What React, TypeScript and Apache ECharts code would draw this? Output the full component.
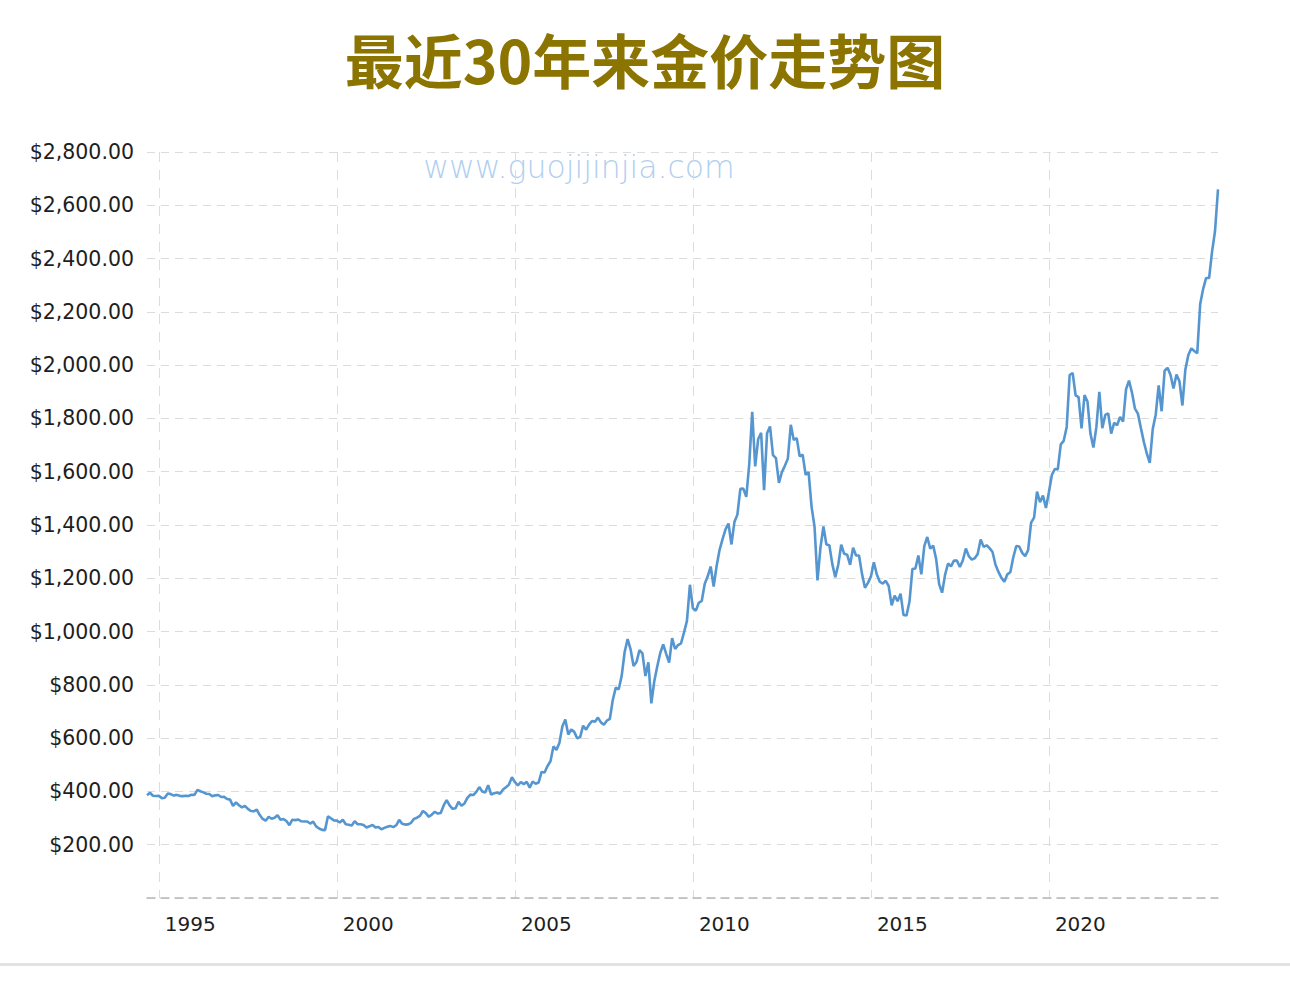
import React, { useEffect, useRef } from "react";
import * as echarts from "echarts";

// Gold price (USD/oz) on the first day of each month, Sep 1994 – Oct 2024
const prices1994 = [386.0, 394.9, 383.9, 383.1];
const prices1995 = [383.3, 374.9, 376.4, 392.0, 389.8, 384.3, 387.1, 383.4, 382.4, 384.0, 382.7, 387.8];
const prices1996 = [387.0, 405.6, 400.7, 396.4, 391.3, 390.6, 382.0, 385.3, 386.5, 379.0, 379.5, 371.3];
const prices1997 = [369.3, 345.5, 358.6, 348.2, 340.2, 345.6, 334.6, 326.4, 325.4, 332.1, 311.4, 296.8];
const prices1998 = [290.2, 304.9, 297.4, 301.0, 310.7, 293.6, 296.3, 288.9, 273.4, 293.9, 292.3, 294.7];
const prices1999 = [287.8, 287.1, 287.3, 279.5, 286.6, 268.6, 261.0, 255.6, 254.8, 307.0, 299.1, 291.4];
const prices2000 = [290.3, 283.3, 293.7, 276.8, 275.1, 272.3, 288.2, 276.8, 277.0, 273.7, 264.5, 269.1];
const prices2001 = [274.5, 264.5, 266.7, 257.7, 263.2, 267.5, 270.6, 265.9, 273.0, 293.1, 278.8, 275.5];
const prices2002 = [276.5, 282.3, 296.9, 301.4, 308.2, 326.6, 318.5, 304.7, 312.8, 323.7, 316.9, 319.1];
const prices2003 = [347.2, 367.5, 347.5, 334.9, 336.8, 361.4, 346.0, 354.8, 375.6, 388.0, 386.3, 398.4];
const prices2004 = [416.3, 399.8, 395.9, 423.7, 388.5, 393.3, 395.8, 391.4, 407.3, 415.7, 425.6, 453.4];
const prices2005 = [435.6, 422.2, 435.5, 427.5, 435.7, 414.5, 437.1, 429.0, 433.3, 473.3, 470.8, 495.7];
const prices2006 = [513.0, 568.8, 556.0, 582.0, 644.0, 670.0, 613.5, 632.5, 623.5, 599.3, 603.8, 646.7];
const prices2007 = [632.0, 650.5, 664.2, 661.8, 677.0, 659.1, 650.5, 665.5, 672.0, 743.0, 789.5, 783.5];
const prices2008 = [833.8, 923.3, 971.5, 933.5, 871.0, 885.8, 930.3, 918.0, 833.0, 884.5, 730.8, 814.5];
const prices2009 = [869.8, 919.5, 952.0, 916.5, 883.3, 975.5, 934.5, 949.5, 955.5, 995.8, 1040.0, 1175.8];
const prices2010 = [1087.5, 1078.5, 1108.3, 1115.5, 1179.3, 1207.5, 1244.0, 1169.0, 1246.0, 1307.0, 1346.8, 1383.5];
const prices2011 = [1405.5, 1327.0, 1411.0, 1439.0, 1535.5, 1536.5, 1505.5, 1628.5, 1825.0, 1620.0, 1722.0, 1746.0];
const prices2012 = [1531.0, 1744.0, 1770.0, 1662.5, 1651.3, 1558.0, 1598.5, 1622.0, 1648.5, 1776.0, 1719.0, 1726.0];
const prices2013 = [1657.5, 1664.0, 1588.5, 1598.3, 1469.0, 1394.5, 1192.0, 1314.5, 1394.8, 1326.5, 1324.0, 1253.0];
const prices2014 = [1204.5, 1251.0, 1326.5, 1291.8, 1288.5, 1250.5, 1315.0, 1285.3, 1285.8, 1216.5, 1164.3, 1182.8];
const prices2015 = [1206.0, 1260.3, 1214.0, 1187.0, 1180.3, 1190.6, 1171.0, 1098.4, 1135.0, 1114.0, 1142.4, 1061.9];
const prices2016 = [1060.0, 1111.8, 1234.9, 1237.0, 1285.7, 1214.7, 1320.8, 1355.0, 1311.4, 1322.5, 1272.0, 1178.1];
const prices2017 = [1145.9, 1212.8, 1255.6, 1244.9, 1266.5, 1266.2, 1242.3, 1267.6, 1311.8, 1283.1, 1270.2, 1275.0];
const prices2018 = [1291.0, 1345.2, 1317.9, 1323.9, 1313.2, 1298.5, 1250.5, 1224.0, 1201.5, 1187.3, 1214.9, 1222.5];
const prices2019 = [1279.0, 1321.0, 1319.2, 1295.4, 1283.0, 1305.6, 1409.0, 1427.6, 1525.0, 1485.3, 1510.9, 1463.9];
const prices2020 = [1523.0, 1587.9, 1609.9, 1608.9, 1702.8, 1715.9, 1768.1, 1962.8, 1970.7, 1886.9, 1879.9, 1762.2];
const prices2021 = [1887.6, 1863.6, 1743.3, 1691.1, 1767.3, 1899.7, 1763.2, 1813.2, 1818.9, 1742.8, 1783.4, 1774.5];
const prices2022 = [1805.9, 1788.2, 1909.1, 1942.2, 1896.9, 1836.9, 1818.0, 1764.6, 1712.0, 1668.3, 1633.6, 1759.9];
const prices2023 = [1813.8, 1923.9, 1826.9, 1978.9, 1990.0, 1962.7, 1912.3, 1965.1, 1939.7, 1848.6, 1983.9, 2038.1];
const prices2024 = [2062.9, 2053.1, 2044.3, 2229.9, 2286.3, 2327.3, 2326.8, 2426.2, 2503.4, 2660.0];

const yearlyPrices: number[][] = [
  prices1994, prices1995, prices1996, prices1997, prices1998, prices1999,
  prices2000, prices2001, prices2002, prices2003, prices2004, prices2005,
  prices2006, prices2007, prices2008, prices2009, prices2010, prices2011,
  prices2012, prices2013, prices2014, prices2015, prices2016, prices2017,
  prices2018, prices2019, prices2020, prices2021, prices2022, prices2023,
  prices2024,
];
const firstYear = 1994;
const firstMonth = 9;

// Years that get a label and a vertical grid line
const labelYears = [1995, 2000, 2005, 2010, 2015, 2020];

const yMin = 0;
const yMax = 2800;
const yStep = 200;

const titleText = "最近30年来金价走势图";
const watermarkText = "www.guojijinjia.com";

function buildSeries() {
  const months: string[] = [];
  const values: number[] = [];
  yearlyPrices.forEach((row, yi) => {
    const year = firstYear + yi;
    const start = yi === 0 ? firstMonth : 1;
    row.forEach((v, k) => {
      const m = start + k;
      months.push(`${year}-${String(m).padStart(2, "0")}`);
      values.push(v);
    });
  });
  return { months, values };
}

const isLabelMonth = (_idx: number, value: string) =>
  value.endsWith("-01") && labelYears.includes(Number(value.slice(0, 4)));

export default function App() {
  const ref = useRef<HTMLDivElement>(null);

  useEffect(() => {
    if (!ref.current) return;
    const chart = echarts.init(ref.current, null, { renderer: "svg" });
    const { months, values } = buildSeries();

    chart.setOption({
      animation: false,
      backgroundColor: "#ffffff",
      title: {
        text: titleText,
        left: "center",
        top: 29,
        padding: 0,
        textStyle: {
          fontFamily: "Noto Sans CJK SC",
          fontWeight: "bold",
          fontSize: 59,
          color: "#8b7400",
        },
      },
      grid: { left: 147, right: 72, top: 152, bottom: 88, containLabel: false },
      xAxis: {
        type: "category",
        data: months,
        boundaryGap: false,
        axisLine: {
          show: true,
          lineStyle: { color: "#b8b8b8", width: 1.5, type: [8, 6] },
        },
        axisTick: { show: false },
        axisLabel: {
          interval: isLabelMonth,
          formatter: (v: string) => v.slice(0, 4),
          align: "left",
          padding: [0, 0, 0, 6],
          margin: 16,
          fontFamily: "DejaVu Sans",
          fontSize: 20,
          color: "#1e1e1e",
        },
        splitLine: {
          show: true,
          interval: isLabelMonth,
          lineStyle: { color: "#dcdcdc", width: 1, type: [10, 8] },
        },
      },
      yAxis: {
        type: "value",
        min: yMin,
        max: yMax,
        interval: yStep,
        axisLine: { show: false },
        axisTick: { show: false },
        axisLabel: {
          showMinLabel: false,
          margin: 13,
          fontFamily: "DejaVu Sans",
          fontSize: 20.5,
          color: "#1e1e1e",
          formatter: (v: number) =>
            "$" + v.toLocaleString("en-US", { minimumFractionDigits: 2, maximumFractionDigits: 2 }),
        },
        splitLine: {
          show: true,
          lineStyle: { color: "#dcdcdc", width: 1, type: [8, 6] },
        },
      },
      graphic: [
        {
          type: "text",
          x: 579,
          y: 167,
          z: 0,
          style: {
            text: watermarkText,
            fill: "#b0cff0",
            font: "300 31.5px 'DejaVu Sans'",
            align: "center",
            verticalAlign: "middle",
          },
        },
        {
          type: "rect",
          shape: { x: 0, y: 963, width: 1290, height: 3 },
          style: { fill: "#e3e3e3" },
        },
      ],
      series: [
        {
          type: "line",
          data: values,
          symbol: "none",
          lineStyle: { color: "#5696d0", width: 2.6 },
          z: 3,
        },
      ],
    });

    return () => chart.dispose();
  }, []);

  return (
    <div
      ref={ref}
      style={{ position: "absolute", left: 0, top: 0, width: 1290, height: 986 }}
    />
  );
}
